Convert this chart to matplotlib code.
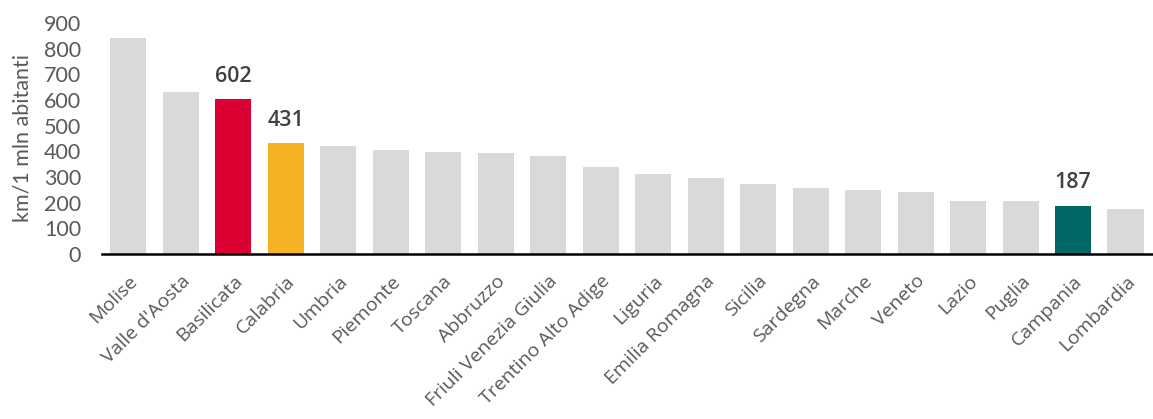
import matplotlib.pyplot as plt

regions = ["Molise", "Valle d'Aosta", "Basilicata", "Calabria", "Umbria", "Piemonte",
           "Toscana", "Abbruzzo", "Friuli Venezia Giulia", "Trentino Alto Adige",
           "Liguria", "Emilia Romagna", "Sicilia", "Sardegna", "Marche", "Veneto",
           "Lazio", "Puglia", "Campania", "Lombardia"]
km_per_mln = [841, 631, 602, 431, 421, 406, 396, 393, 380, 338,
              310, 296, 274, 257, 249, 242, 206, 206, 187, 174]
highlight = {"Basilicata": "#DC0032", "Calabria": "#F5B324", "Campania": "#006766"}

colors = [highlight.get(r, "#D9D9D9") for r in regions]
x = range(len(regions))

fig = plt.figure(figsize=(11.53, 4.19), dpi=100)
ax = fig.add_axes([0.0885, 0.394, 0.9105, 0.551])
ax.bar(x, km_per_mln, width=0.69, color=colors, zorder=2)

for i, (r, v) in enumerate(zip(regions, km_per_mln)):
    if r in highlight:
        ax.annotate(str(v), (i, v), xytext=(0, 9), textcoords="offset points",
                    ha="center", va="bottom", fontsize=15.5, color="#404040",
                    family="Open Sans", weight="semibold")

ax.set_xlim(-0.5, len(regions) - 0.5)
ax.set_ylim(0, 900)
ax.set_yticks(range(0, 901, 100))
ax.tick_params(axis="y", length=0, labelsize=15.5, labelcolor="#595959", pad=15)
ax.tick_params(axis="x", length=0, pad=13)
ax.set_xticks(list(x))
ax.set_xticklabels(regions, rotation=45, ha="right", rotation_mode="anchor",
                   fontsize=14, color="#595959", family="Open Sans")
for lbl in ax.get_yticklabels():
    lbl.set_family("Lato")
ax.set_ylabel("km/1 mln abitanti", fontsize=15.5, color="#595959", family="Lato",
              labelpad=8)

for s in ["top", "right", "left"]:
    ax.spines[s].set_visible(False)
ax.spines["bottom"].set_linewidth(1.8)
ax.spines["bottom"].set_color("black")
ax.spines["bottom"].set_zorder(3)

fig.savefig("out.png", dpi=100)
